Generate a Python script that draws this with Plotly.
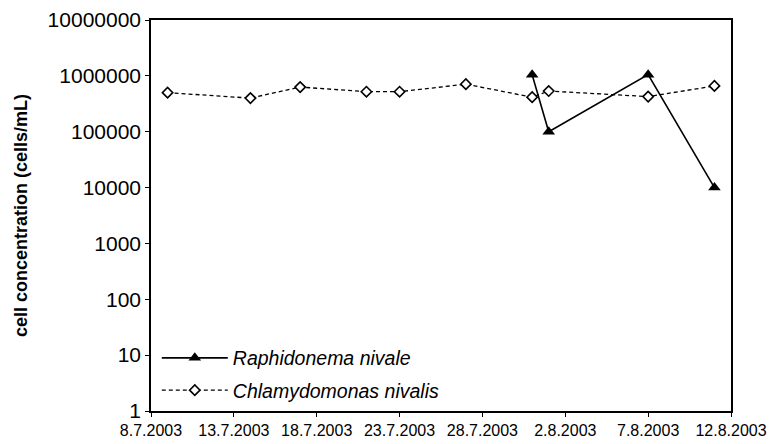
import plotly.graph_objects as go

# Sampling dates and cell counts (cells/mL)
chlamy_dates = ["2003-07-09", "2003-07-14", "2003-07-17", "2003-07-21", "2003-07-23",
                "2003-07-27", "2003-07-31", "2003-08-01", "2003-08-07", "2003-08-11"]
chlamy_values = [500000, 400000, 630000, 520000, 520000,
                 710000, 415000, 535000, 425000, 660000]

raphido_dates = ["2003-07-31", "2003-08-01", "2003-08-07", "2003-08-11"]
raphido_values = [1050000, 100000, 1050000, 10000]

tick_dates = ["2003-07-08", "2003-07-13", "2003-07-18", "2003-07-23",
              "2003-07-28", "2003-08-02", "2003-08-07", "2003-08-12"]
tick_labels = ["8.7.2003", "13.7.2003", "18.7.2003", "23.7.2003",
               "28.7.2003", "2.8.2003", "7.8.2003", "12.8.2003"]
y_ticks = [1, 10, 100, 1000, 10000, 100000, 1000000, 10000000]
y_labels = [str(v) for v in y_ticks]

font = "Liberation Sans, Arial, sans-serif"

fig = go.Figure()
fig.add_trace(go.Scatter(
    x=raphido_dates, y=raphido_values, mode="lines+markers",
    name="Raphidonema nivale", legendgroup="r",
    line=dict(color="black", width=1.6),
    marker=dict(symbol="triangle-up", size=11, color="black"),
))
fig.add_trace(go.Scatter(
    x=chlamy_dates, y=chlamy_values, mode="lines+markers",
    name="Chlamydomonas nivalis", legendgroup="c",
    line=dict(color="black", width=1.3, dash="4px,3px"),
    marker=dict(symbol="diamond", size=8, color="white",
                line=dict(color="black", width=1.6)),
))

fig.update_layout(
    width=769, height=444,
    margin=dict(l=151, r=38, t=20, b=33, autoexpand=False),
    paper_bgcolor="white", plot_bgcolor="white",
    font=dict(family=font, color="black"),
    showlegend=True,
    legend=dict(
        x=0.01, y=0.185, xanchor="left", yanchor="top",
        bgcolor="rgba(0,0,0,0)", borderwidth=0,
        font=dict(family=font, size=19.5, style="italic", color="black"),
        itemwidth=66, traceorder="grouped", tracegroupgap=4,
    ),
    xaxis=dict(
        type="date", range=["2003-07-08", "2003-08-12"], automargin=False,
        tickmode="array", tickvals=tick_dates, ticktext=tick_labels,
        tickfont=dict(size=16), ticks="outside", ticklen=4,
        tickcolor="black", showline=True, linecolor="black", linewidth=1.5,
        mirror=True, showgrid=False, zeroline=False,
    ),
    yaxis=dict(
        type="log", range=[0, 7], automargin=False,
        tickmode="array", tickvals=y_ticks, ticktext=y_labels,
        ticksuffix="\u00a0",
        tickfont=dict(size=21), ticks="outside", ticklen=4,
        tickcolor="black", showline=True, linecolor="black", linewidth=1.5,
        mirror=True, showgrid=False, zeroline=False,
        title=dict(text="<b>cell concentration (cells/mL)</b>",
                   font=dict(size=18)),
    ),
)

fig.write_html("out.html")
